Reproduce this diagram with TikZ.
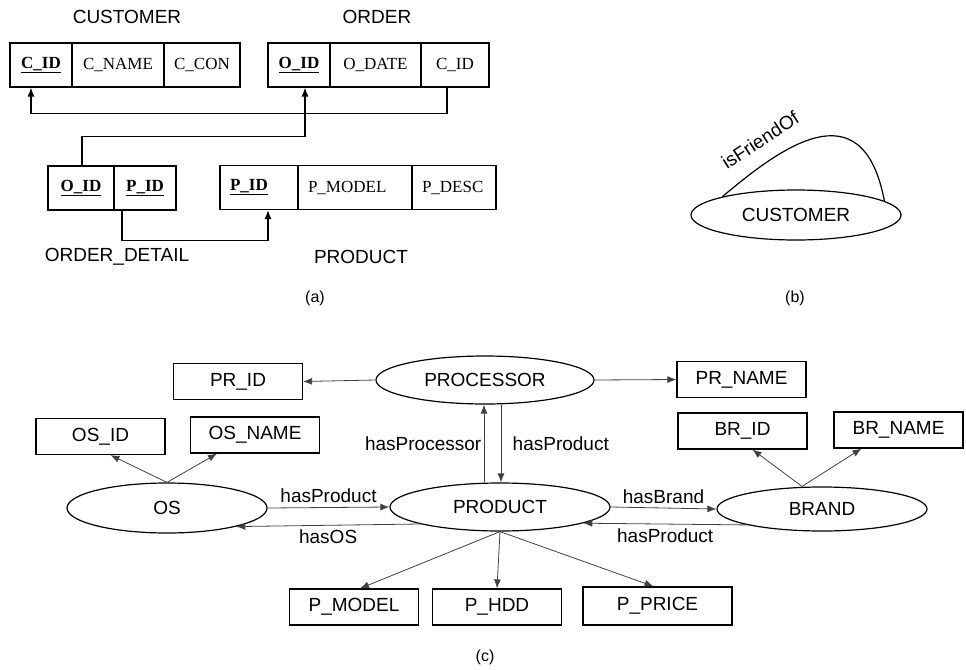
\documentclass[tikz,border=0pt]{standalone}
\usepackage{fontspec}
\setmainfont{Liberation Sans}
\newfontfamily\tabfont{Liberation Serif}
\usetikzlibrary{shapes.geometric,arrows.meta}

\tikzset{
  cell/.style={draw, line width=1.2pt, inner sep=0pt, minimum height=44pt,
    font=\tabfont\fontsize{17}{20}\selectfont},
  lcell/.style={cell, minimum width=#1, text width=#1-20pt, align=left},
  attr/.style={draw, line width=1.2pt, inner sep=0pt, minimum width=129pt, minimum height=36pt},
  cls/.style={ellipse, draw, line width=1.2pt, inner sep=0pt},
  fk/.style={line width=1.3pt, -{Latex[length=9pt,width=7pt]}},
  rel/.style={draw=black!75, line width=.8pt, -{Latex[length=9pt,width=7pt]}},
  capt/.style={font=\fontsize{16}{19}\selectfont},
}
\newcommand{\pk}[1]{\underline{\textbf{#1}}}

\begin{document}
\begin{tikzpicture}[x=1pt, y=-1pt, font=\fontsize{19}{22}\selectfont]
  \useasboundingbox (0,0) rectangle (966,669);

  % (a) relational schema
  \node (tcust)  at (127,17)  {CUSTOMER};
  \node (torder) at (377,17)  {ORDER};
  \node (tdet)   at (117,257) {ORDER\_DETAIL};
  \node (tprod)  at (361,257) {PRODUCT};

  \node[cell, minimum width=62pt] (c1) at (41,65)    {\pk{C\_ID}};
  \node[cell, minimum width=92pt] (c2) at (118,65)   {C\_NAME};
  \node[cell, minimum width=76pt] (c3) at (202,65)   {C\_CON};

  \node[cell, minimum width=62pt] (o1) at (299,65)   {\pk{O\_ID}};
  \node[cell, minimum width=91pt] (o2) at (375.5,65) {O\_DATE};
  \node[cell, minimum width=68pt] (o3) at (455,65)   {C\_ID};

  \begin{scope}[every node/.append style={minimum height=38pt}]
    \node[cell, minimum width=66pt] (d1) at (81,188)  {\pk{O\_ID}};
    \node[cell, minimum width=62pt] (d2) at (145,188) {\pk{P\_ID}};
  \end{scope}

  \begin{scope}[every node/.append style={minimum height=35pt}]
    \node[lcell=78pt]  (p1) at (259,187.5) {\pk{P\_ID}};
    \node[lcell=114pt] (p2) at (355,187.5) {P\_MODEL};
    \node[lcell=84pt]  (p3) at (454,187.5) {P\_DESC};
  \end{scope}

  \draw[fk] ([xshift=-8pt]o3.south) -- ++(0,26) -| ([xshift=-10pt]c1.south);
  \draw[fk] ([xshift=1pt]d1.north) -- ++(0,-29) -| ([xshift=6pt]o1.south);
  \draw[fk] ([xshift=-23pt]d2.south) -- ++(0,30) -| ([xshift=9pt]p1.south);

  \node[capt] (capa) at (315,298) {(a)};

  % (b) self relation
  \node[cls, minimum width=210pt, minimum height=50pt] (bcust) at (796,215) {CUSTOMER};
  \draw[line width=1.2pt] (bcust.166) .. controls +(56,-47) and +(-22,-116) .. (bcust.9)
    node[pos=.27, sloped, above=11pt] {isFriendOf};
  \node[capt] (capb) at (795,298) {(b)};

  % (c) ontology
  \node[cls, minimum width=218pt, minimum height=48pt] (proc)  at (485,380) {PROCESSOR};
  \node[cls, minimum width=200pt, minimum height=50pt] (os)    at (167,508) {OS};
  \node[cls, minimum width=220pt, minimum height=48pt] (prod)  at (500,507) {PRODUCT};
  \node[cls, minimum width=210pt, minimum height=44pt] (brand) at (822,509) {BRAND};

  \node[attr] (prid)   at (238,381.5)   {PR\_ID};
  \node[attr] (prname) at (741.5,379.5) {PR\_NAME};
  \node[attr] (osid)   at (100.5,436.5) {OS\_ID};
  \node[attr] (osname) at (255,435)     {OS\_NAME};
  \node[attr] (brid)   at (742.5,431)   {BR\_ID};
  \node[attr] (brname) at (898.5,430)   {BR\_NAME};
  \node[attr] (pmodel) at (354,607)     {P\_MODEL};
  \node[attr] (phdd)   at (497,607)     {P\_HDD};
  \node[attr, minimum width=149pt, minimum height=38pt] (pprice) at (657.5,606) {P\_PRICE};

  \draw[rel] (proc.west) -- (prid.east);
  \draw[rel] (proc.east) -- (prname.west);
  \draw[rel] ([xshift=-16pt]prod.north) -- ([xshift=-16pt]prod.north |- proc.south)
    node[midway, left=-1pt] {hasProcessor};
  \draw[rel] ([xshift=16pt]proc.south) -- ([xshift=16pt]proc.south |- prod.north)
    node[midway, right=8pt] {hasProduct};

  \draw[rel] (os.east) -- (prod.west) node[midway, above=1pt] {hasProduct};
  \draw[rel] (prod.192) -- (os.345) node[midway, below=1pt] {hasOS};
  \draw[rel] (prod.east) -- (brand.west) node[midway, above=1pt] {hasBrand};
  \draw[rel] (brand.192) -- (prod.349) node[midway, below=1pt] {hasProduct};

  \draw[rel] (os.north) -- ([xshift=10pt]osid.south);
  \draw[rel] (os.north) -- ([xshift=-38pt]osname.south);
  \draw[rel] ([xshift=-20pt]brand.north) -- ([xshift=10pt]brid.south);
  \draw[rel] ([xshift=-20pt]brand.north) -- ([xshift=-37pt]brname.south);

  \draw[rel] (prod.south) -- ([xshift=6pt]pmodel.north);
  \draw[rel] (prod.south) -- (phdd.north);
  \draw[rel] (prod.south) -- ([xshift=-4pt]pprice.north);

  \node[capt] (capc) at (485,657) {(c)};
\end{tikzpicture}
\end{document}
